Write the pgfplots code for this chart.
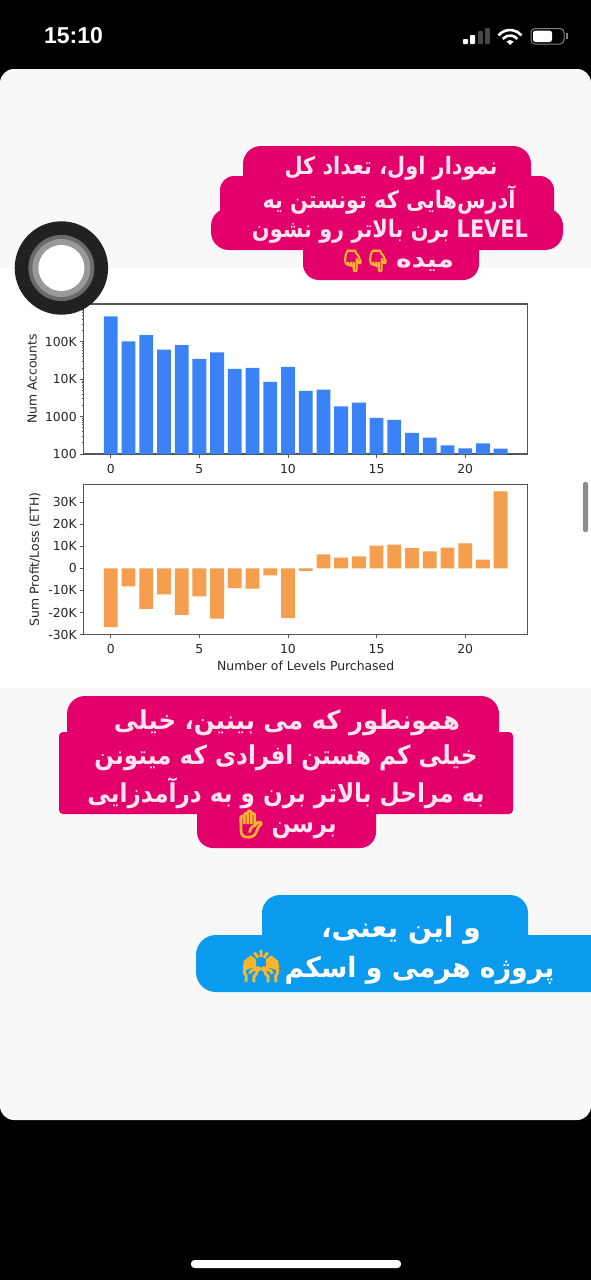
\documentclass[border=0pt]{standalone}
\usepackage{graphicx}
\usepackage{pgfplots}
\pgfplotsset{compat=1.18}
\usepackage{fontspec}
\setmainfont{DejaVu Sans}
\newfontfamily\fa[Script=Arabic]{DejaVu Sans}
\newfontfamily\emo[FakeBold=6]{Noto Emoji}
\newfontfamily\timefont{Liberation Sans}
\TeXXeTstate=1
\definecolor{pinkb}{HTML}{E4006A}
\definecolor{blueb}{HTML}{0A9BEE}
\definecolor{bluebar}{HTML}{3B82F6}
\definecolor{orangebar}{HTML}{F59E4D}
\definecolor{spine}{HTML}{555555}
\definecolor{ptext}{HTML}{FFE3EF}
\definecolor{card}{HTML}{F8F8F8}
\definecolor{emojiy}{HTML}{F9B52C}
% x, y, width, font size, text
\newcommand{\pl}[5]{\node[text=ptext,inner sep=0pt,anchor=center] at (#1,#2) {\resizebox{#3pt}{\height}{\fontsize{#4}{#4}\selectfont\fa\bfseries #5}};}
\newcommand{\bl}[5]{\node[text=white,inner sep=0pt,anchor=center] at (#1,#2) {\resizebox{#3pt}{\height}{\fontsize{#4}{#4}\selectfont\fa\bfseries #5}};}
\newcommand{\emj}[4]{\node[text=emojiy,inner sep=0pt,anchor=center] at (#1,#2) {\fontsize{#3}{#3}\selectfont\emo\bfseries #4};}
\pgfplotsset{
  chartstyle/.style={
    scale only axis,width=444pt,height=150pt,
    xmin=-1.53,xmax=23.53,
    xtick={0,5,10,15,20},
    axis line style={draw=spine,line width=1.1pt},
    tick style={draw=spine,line width=0.8pt},
    major tick length=3.5pt,
    minor tick length=2pt,
    tick align=outside,
    xtick pos=lower,ytick pos=left,
    tick label style={font=\fontsize{12.4}{14}\selectfont,text=black!85},
    label style={font=\fontsize{12.4}{14}\selectfont,text=black!85},
    xticklabel style={yshift=-3pt},
    /pgf/number format/assume math mode=true,
    scaled y ticks=false,
    ybar,bar width=0.78,bar shift=0pt,
    clip=true,
  }
}
\begin{document}
\begin{tikzpicture}[x=1pt,y=-1pt]
\path[use as bounding box] (0,0) rectangle (591,1280);
\fill[black] (0,0) rectangle (591,1280);
% card
\fill[card,rounded corners=14pt] (0,69) rectangle (591,1120);
\fill[white] (0,268) rectangle (591,688);
% status bar
\node[text=white,anchor=center,inner sep=0pt] at (73.5,36) {\fontsize{23}{26}\selectfont\timefont\bfseries 15:10};
\fill[white,rounded corners=0.8pt] (463,39) rectangle (468,44);
\fill[white,rounded corners=0.8pt] (470,35) rectangle (475,44);
\fill[black!72,rounded corners=0.8pt] (478,31) rectangle (483,44);
\fill[black!72,rounded corners=0.8pt] (485,28) rectangle (490,44);
\fill[white] (510,45) -- ++(-135:5) arc (-135:-45:5) -- cycle;
\draw[white,line width=2.6pt] (510,45) ++(-140:9.5) arc (-140:-40:9.5);
\draw[white,line width=2.6pt] (510,45) ++(-140:15) arc (-140:-40:15);
\draw[black!50,line width=1pt,rounded corners=4pt] (531,28.5) rectangle (564,44);
\fill[white,rounded corners=2.5pt] (533,30.5) rectangle (552,42);
\fill[black!50] (566,33) rectangle (568,39);
% top chart
\begin{axis}[chartstyle,at={(83.7pt,-304pt)},anchor=north west,
  ymode=log,ymin=100,ymax=1023000,
  ytick={100,1000,10000,100000},
  yticklabels={100,1000,10K,100K},
  minor ytick={200,300,400,500,600,700,800,900,2000,3000,4000,5000,6000,7000,8000,9000,20000,30000,40000,50000,60000,70000,80000,90000,200000,300000,400000,500000,600000,700000,800000,900000},
  ylabel={Num Accounts},
  y label style={at={(axis description cs:-0.116,0.5)},anchor=center},
  log origin=infty,
]
\addplot[fill=bluebar,draw=none] coordinates {
(0,478000)(1,102000)(2,151000)(3,62000)(4,81000)(5,35000)(6,52000)(7,18900)(8,20100)(9,8500)(10,21400)(11,4870)(12,5290)(13,1890)(14,2370)(15,920)(16,813)(17,365)(18,274)(19,171)(20,142)(21,193)(22,139)};
\end{axis}
% bottom chart
\begin{axis}[chartstyle,at={(83.7pt,-484.3pt)},anchor=north west,height=150.4pt,
  ymin=-30050,ymax=38050,
  ytick={-30000,-20000,-10000,0,10000,20000,30000},
  yticklabels={-30K,-20K,-10K,0,10K,20K,30K},
  ylabel={Sum Profit/Loss (ETH)},
  y label style={at={(axis description cs:-0.11,0.5)},anchor=center},
  xlabel={Number of Levels Purchased},
  x label style={at={(axis description cs:0.5,-0.208)},anchor=center},
]
\addplot[fill=orangebar,draw=none] coordinates {
(0,-26600)(1,-8200)(2,-18300)(3,-11800)(4,-21100)(5,-12700)(6,-22800)(7,-8900)(8,-9200)(9,-3200)(10,-22500)(11,-1200)(12,6300)(13,4800)(14,5400)(15,10300)(16,10700)(17,9100)(18,7700)(19,9400)(20,11300)(21,3900)(22,34900)};
\end{axis}
% avatar
\fill[black!87] (61.4,268) circle (46.7);
\fill[black!58] (61.4,268) circle (33);
\fill[black!40] (61.4,268) circle (29);
\fill[white] (61.4,268) circle (23);
% scroll bar
\fill[black!45,rounded corners=2pt] (583,482) rectangle (588,532);
% top bubble
\fill[pinkb,rounded corners=18pt] (243,146) rectangle (531,200);
\fill[pinkb,rounded corners=14pt] (220,176) rectangle (554,222);
\fill[pinkb,rounded corners=18pt] (211,208) rectangle (563,250);
\fill[pinkb,rounded corners=16pt] (303,230) rectangle (479,280);
\pl{391}{168}{213}{24}{\beginR نمودار اول، تعداد کل\endR}
\pl{389}{200}{253}{24}{\beginR آدرس‌هایی که تونستن یه\endR}
\pl{390}{231}{276}{24}{\beginR\beginL LEVEL\endL{} برن بالاتر رو نشون\endR}
\pl{425}{265}{58}{24}{\beginR میده\endR}
\emj{353}{261}{21}{👇}
\emj{378}{261}{21}{👇}
% middle bubble
\fill[pinkb,rounded corners=18pt] (67,696) rectangle (499,750);
\fill[pinkb,rounded corners=4pt] (59,732) rectangle (513,814);
\fill[pinkb,rounded corners=16pt] (197,795) rectangle (376,848);
\pl{287}{723}{346}{26}{\beginR همونطور که می بینین، خیلی\endR}
\pl{286}{758}{383}{26}{\beginR خیلی کم هستن افرادی که میتونن\endR}
\pl{286}{793}{397}{26}{\beginR به مراحل بالاتر برن و به درآمدزایی\endR}
\pl{304}{831}{65}{26}{\beginR برسن\endR}
\emj{251}{824}{27}{✋}
% blue bubble
\fill[blueb,rounded corners=18pt] (262,895) rectangle (528,955);
\fill[blueb,rounded corners=20pt] (196,935) rectangle (620,992);
\bl{401}{930}{160}{28}{\beginR و این یعنی،\endR}
\bl{419.5}{970}{270}{28}{\beginR پروژه هرمی و اسکم\endR}
\emj{261}{966}{30}{🙌}
% home indicator
\fill[white,rounded corners=3.5pt] (191,1260) rectangle (401,1268);
\end{tikzpicture}
\end{document}
